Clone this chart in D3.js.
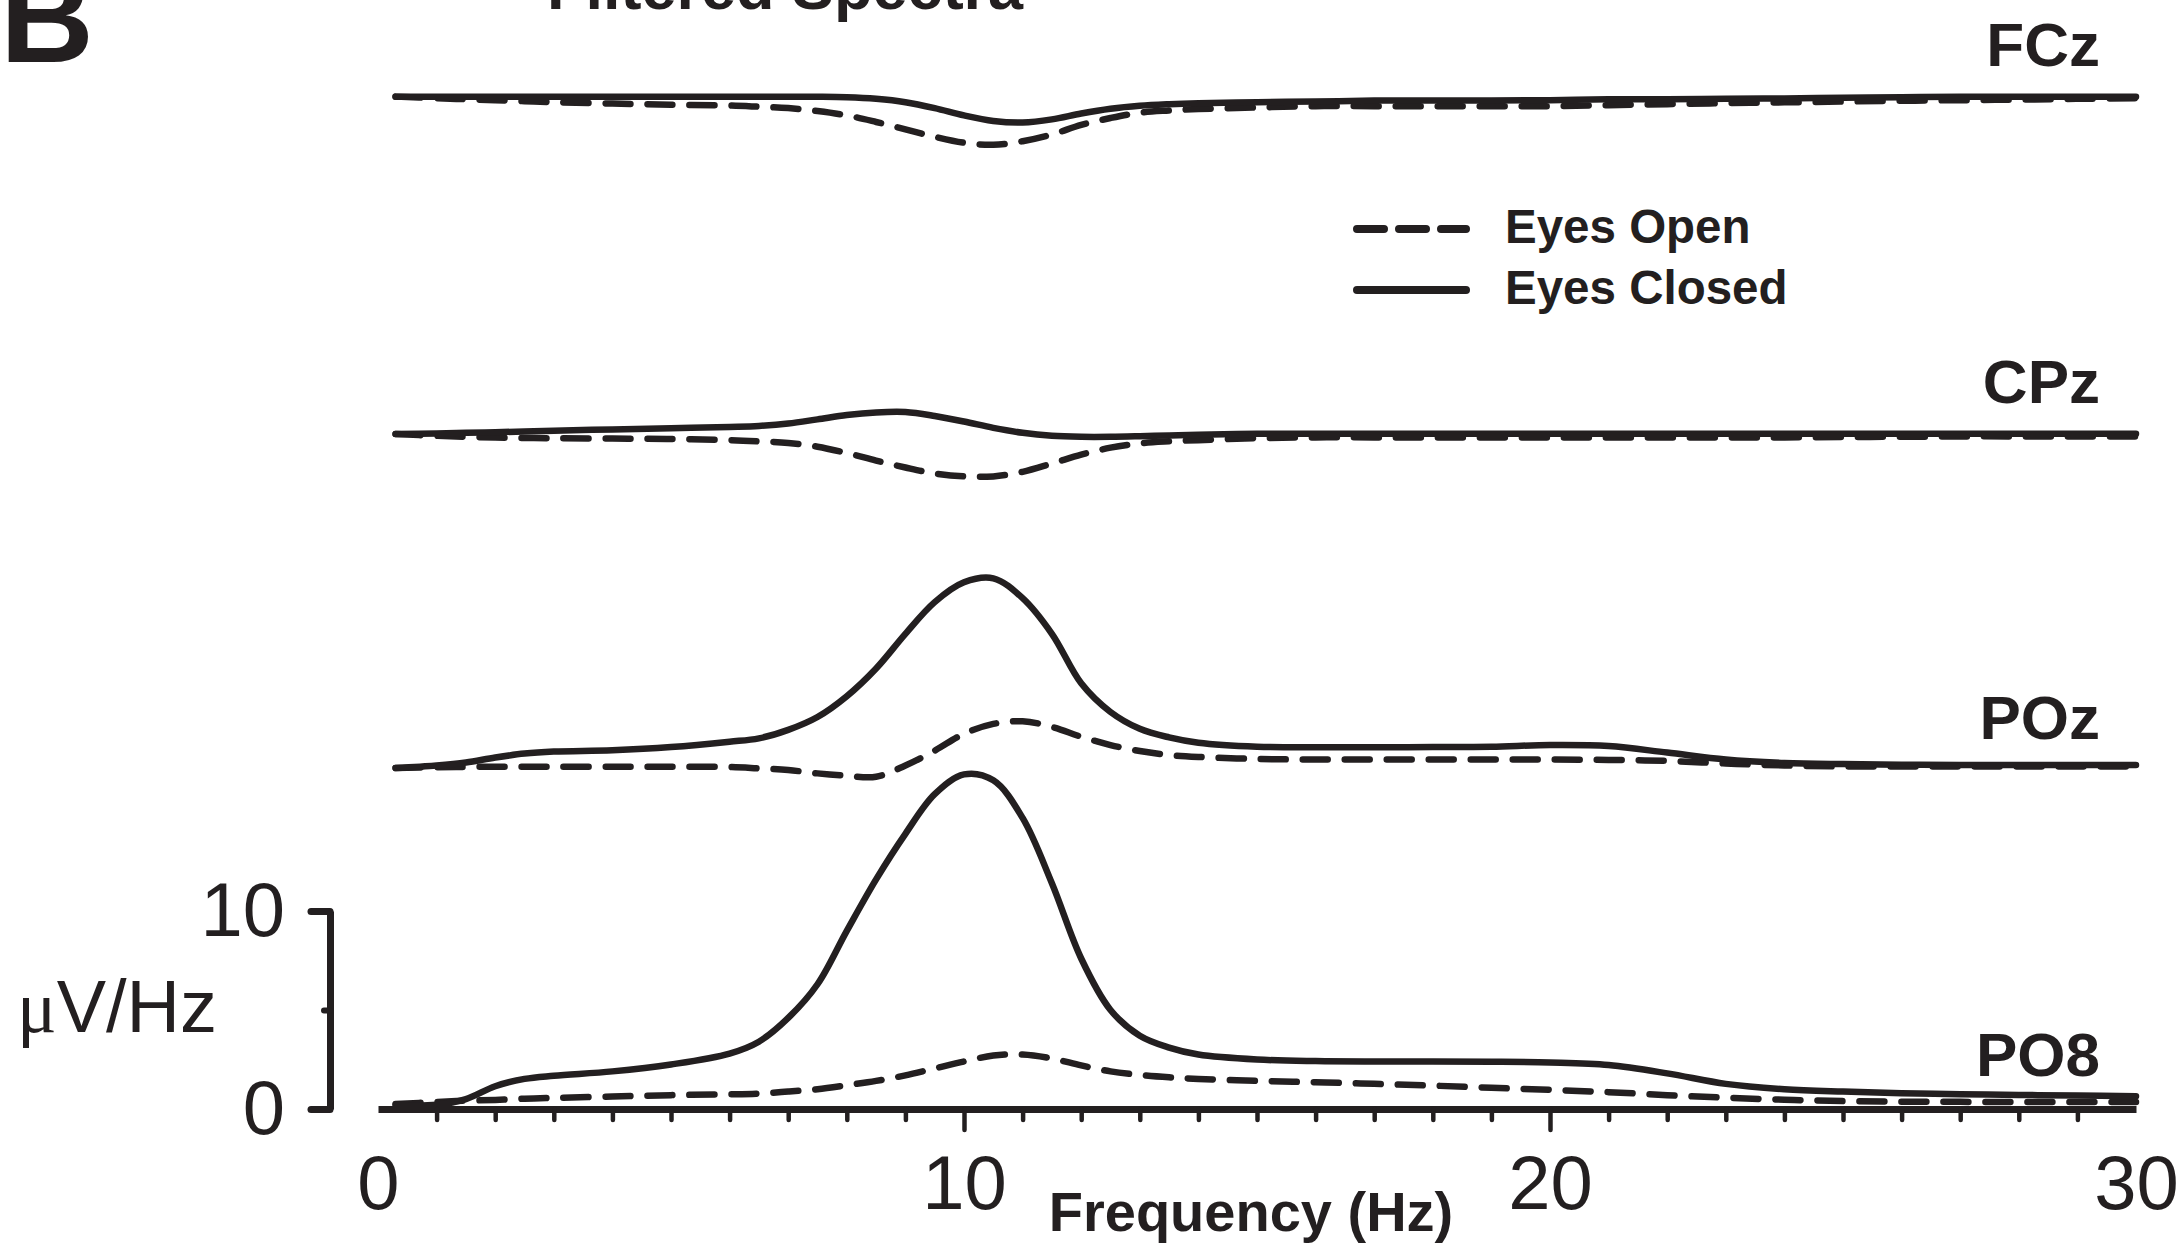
<!DOCTYPE html>
<html>
<head>
<meta charset="utf-8">
<script src="https://cdn.jsdelivr.net/npm/d3@7"></script>
<style>
    body { margin: 0; background: #fff; }
    svg { display: block; font-family: "Liberation Sans", Arial, Helvetica, sans-serif; }
</style>
</head>
<body>
<svg id="spectraPlot" width="2182" height="1246"></svg>
<script>
// frequency grid (Hz) shared by every trace
var freqs = [0.3, 1, 1.5, 2, 2.5, 3, 4, 5, 6, 6.5,
    7, 7.5, 8, 8.5, 9, 9.5, 10, 10.5, 11, 11.5, 12, 12.5, 13, 13.5, 14,
    15, 16, 17, 18, 19, 20, 21, 22, 23, 24, 25, 26, 27, 28, 29, 30];

var channels = ["FCz", "CPz", "POz", "PO8"];
var conditions = ["Eyes Open", "Eyes Closed"];

// uV/Hz
var fczOpen = [0.13, 0.05, 0.0, -0.05, -0.1, -0.15, -0.22, -0.28, -0.32, -0.38,
    -0.45, -0.6, -0.82, -1.15, -1.52, -1.9, -2.2, -2.3, -2.12, -1.78, -1.3, -0.95, -0.68, -0.57, -0.5,
    -0.42, -0.35, -0.35, -0.35, -0.35, -0.35, -0.3, -0.25, -0.2, -0.16, -0.12, -0.08, -0.05, -0.02, 0.02, 0.05];
var fczClosed = [0.13, 0.12, 0.12, 0.12, 0.12, 0.12, 0.12, 0.12, 0.12, 0.12,
    0.12, 0.12, 0.1, 0.02, -0.15, -0.45, -0.82, -1.1, -1.18, -1.02, -0.72, -0.48, -0.33, -0.25, -0.2,
    -0.15, -0.12, -0.07, -0.07, -0.07, -0.05, 0.0, 0.0, 0.02, 0.04, 0.07, 0.1, 0.12, 0.12, 0.12, 0.12];

var cpzOpen = [0.09, 0.0, -0.05, -0.09, -0.11, -0.12, -0.14, -0.16, -0.22, -0.28,
    -0.36, -0.55, -0.87, -1.25, -1.6, -1.9, -2.05, -2.05, -1.82, -1.4, -0.95, -0.6, -0.38, -0.28, -0.22,
    -0.12, -0.08, -0.08, -0.08, -0.08, -0.08, -0.08, -0.08, -0.08, -0.08, -0.06, -0.05, -0.03, -0.03, -0.03, -0.03];
var cpzClosed = [0.09, 0.12, 0.15, 0.18, 0.22, 0.26, 0.32, 0.38, 0.45, 0.5,
    0.62, 0.83, 1.05, 1.18, 1.2, 1.0, 0.72, 0.4, 0.15, 0.0, -0.05, -0.05, -0.02, 0.02, 0.05,
    0.1, 0.1, 0.1, 0.1, 0.1, 0.1, 0.1, 0.1, 0.1, 0.1, 0.1, 0.1, 0.1, 0.1, 0.1, 0.1];

var pozOpen = [0.22, 0.26, 0.28, 0.29, 0.29, 0.29, 0.29, 0.29, 0.27, 0.2,
    0.12, -0.05, -0.17, -0.22, 0.35, 1.1, 1.95, 2.45, 2.58, 2.3, 1.8, 1.38, 1.08, 0.88, 0.78,
    0.68, 0.65, 0.65, 0.65, 0.65, 0.65, 0.63, 0.58, 0.45, 0.35, 0.3, 0.3, 0.3, 0.3, 0.3, 0.3];
var pozClosed = [0.22, 0.35, 0.5, 0.75, 0.95, 1.05, 1.12, 1.28, 1.55, 1.72,
    2.15, 2.8, 3.85, 5.25, 7.0, 8.6, 9.6, 9.8, 8.8, 7.0, 4.5, 3.05, 2.2, 1.77, 1.5,
    1.3, 1.27, 1.27, 1.28, 1.3, 1.38, 1.33, 1.0, 0.65, 0.48, 0.42, 0.39, 0.38, 0.38, 0.38, 0.38];

var po8Open = [0.25, 0.35, 0.42, 0.46, 0.52, 0.56, 0.63, 0.7, 0.74, 0.78,
    0.88, 1.0, 1.2, 1.42, 1.7, 2.05, 2.4, 2.7, 2.75, 2.55, 2.2, 1.9, 1.72, 1.6, 1.52,
    1.42, 1.35, 1.27, 1.18, 1.07, 0.97, 0.85, 0.7, 0.57, 0.47, 0.4, 0.37, 0.36, 0.35, 0.35, 0.35];
var po8Closed = [0.2, 0.22, 0.5, 1.15, 1.52, 1.68, 1.9, 2.25, 2.8, 3.4,
    4.6, 6.3, 9.0, 11.6, 13.9, 15.9, 16.9, 16.6, 14.7, 11.4, 7.6, 5.0, 3.7, 3.1, 2.75,
    2.5, 2.42, 2.4, 2.4, 2.39, 2.35, 2.22, 1.8, 1.27, 1.0, 0.88, 0.8, 0.75, 0.71, 0.68, 0.65];

var xTickLabels = [0, 10, 20, 30];
var yTickLabels = [0, 10];

var openSeries = [fczOpen, cpzOpen, pozOpen, po8Open];
var closedSeries = [fczClosed, cpzClosed, pozClosed, po8Closed];

// ---- layout ----
var ink = "#231f20";
var stackOffset = [51, 34, 17, 0];   // vertical shift of each channel, uV/Hz

var svg = d3.select("#spectraPlot");

var x = d3.scaleLinear().domain([0, 30]).range([378, 2136]);
var y = d3.scaleLinear().domain([0, 10]).range([1109, 911]);

var line = d3.line()
    .curve(d3.curveCatmullRom.alpha(0.5))
    .x(function(d) { return x(d.f); })
    .y(function(d) { return y(d.v); });

var traces = [];
channels.forEach(function(ch, i) {
    traces.push({channel: ch, dashed: true, points: freqs.map(function(f, k) {
        return {f: f, v: stackOffset[i] + openSeries[i][k]};
    })});
    traces.push({channel: ch, dashed: false, points: freqs.map(function(f, k) {
        return {f: f, v: stackOffset[i] + closedSeries[i][k]};
    })});
});

svg.append("g")
    .attr("class", "traces")
    .selectAll("path")
    .data(traces)
    .enter().append("path")
    .attr("d", function(d) { return line(d.points); })
    .attr("fill", "none")
    .attr("stroke", ink)
    .attr("stroke-width", 6.5)
    .attr("stroke-linecap", "round")
    .attr("stroke-linejoin", "round")
    .attr("stroke-dasharray", function(d) { return d.dashed ? "25,17" : null; });

// channel names
svg.append("g")
    .selectAll("text")
    .data(channels)
    .enter().append("text")
    .attr("x", 2100)
    .attr("y", function(d, i) { return y(stackOffset[i]) - 33; })
    .attr("text-anchor", "end")
    .attr("font-size", 62)
    .attr("font-weight", "bold")
    .attr("fill", ink)
    .text(function(d) { return d; });

// x axis: minor ticks every Hz, long ticks at 10 and 20
var xTicks = svg.append("g")
    .attr("transform", "translate(0," + y(0) + ")")
    .call(d3.axisBottom(x).tickValues(d3.range(1, 30)).tickSize(11).tickSizeOuter(0).tickFormat(""));
xTicks.select(".domain").attr("stroke", ink).attr("stroke-width", 7);
xTicks.selectAll(".tick line")
    .attr("stroke", ink)
    .attr("stroke-width", 4.5)
    .attr("stroke-linecap", "round")
    .attr("y2", function(d) { return d % 10 === 0 ? 21 : 11; });

var xLabels = svg.append("g")
    .attr("transform", "translate(0," + y(0) + ")")
    .call(d3.axisBottom(x).tickValues(xTickLabels).tickSize(0).tickPadding(46));
xLabels.select(".domain").remove();
xLabels.selectAll("text")
    .attr("font-size", 76)
    .attr("font-family", "Liberation Sans, Arial, sans-serif")
    .attr("fill", ink);

svg.append("text")
    .attr("x", 1251)
    .attr("y", 1231)
    .attr("text-anchor", "middle")
    .attr("font-size", 56)
    .attr("font-weight", "bold")
    .attr("fill", ink)
    .text("Frequency (Hz)");

// y scale bar
var yAxis = svg.append("g")
    .attr("transform", "translate(330,0)")
    .call(d3.axisLeft(y).tickValues(yTickLabels).tickSize(19).tickSizeOuter(0).tickPadding(26));
yAxis.select(".domain").attr("stroke", ink).attr("stroke-width", 7);
yAxis.selectAll(".tick line").attr("stroke", ink).attr("stroke-width", 7).attr("stroke-linecap", "round");
yAxis.selectAll("text")
    .attr("font-size", 76)
    .attr("font-family", "Liberation Sans, Arial, sans-serif")
    .attr("fill", ink);

var yMid = svg.append("g")
    .attr("transform", "translate(330,0)")
    .call(d3.axisLeft(y).tickValues([5]).tickSize(6).tickFormat(""));
yMid.select(".domain").remove();
yMid.selectAll(".tick line").attr("stroke", ink).attr("stroke-width", 6).attr("stroke-linecap", "round");

var yLabel = svg.append("text")
    .attr("x", 17)
    .attr("y", 1032)
    .attr("font-size", 74)
    .attr("fill", ink);
yLabel.append("tspan").attr("font-family", "Liberation Serif, Times New Roman, serif").text("\u03bc");
yLabel.append("tspan").text("V/Hz");

// legend
var legend = svg.append("g").attr("class", "legend");
conditions.forEach(function(c, i) {
    var ly = 229 + i * 61;
    legend.append("line")
        .attr("x1", 1357).attr("x2", 1466)
        .attr("y1", ly).attr("y2", ly)
        .attr("stroke", ink)
        .attr("stroke-width", 8)
        .attr("stroke-linecap", "round")
        .attr("stroke-dasharray", i === 0 ? "27,15" : null);
    legend.append("text")
        .attr("x", 1505)
        .attr("y", ly + 14)
        .attr("font-size", 47.5)
        .attr("font-weight", "bold")
        .attr("fill", ink)
        .text(c);
});

// panel letter and (clipped) title
svg.append("text")
    .attr("x", 0)
    .attr("y", 62)
    .attr("font-size", 130)
    .attr("font-weight", "bold")
    .attr("fill", ink)
    .text("B");

svg.append("text")
    .attr("x", 547)
    .attr("y", 9)
    .attr("font-size", 63)
    .attr("font-weight", "bold")
    .attr("fill", ink)
    .text("Filtered Spectra");
</script>
</body>
</html>
